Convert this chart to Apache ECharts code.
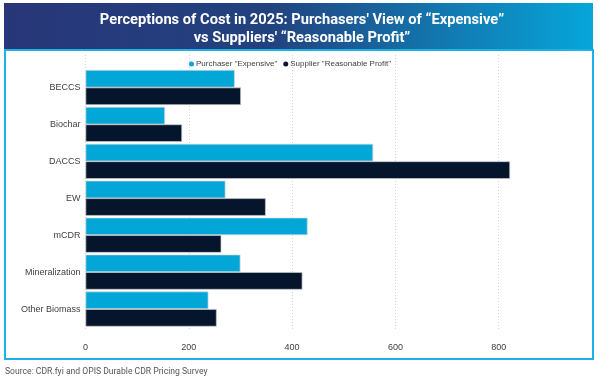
<!DOCTYPE html>
<html><head><meta charset="utf-8">
<script src="https://cdn.jsdelivr.net/npm/echarts@6/dist/echarts.min.js"></script>
<style>html,body{margin:0;padding:0;background:#fff}#c{width:602px;height:389px}</style>
</head><body><div id="c"></div>
<script>
const categories = ['BECCS','Biochar','DACCS','EW','mCDR','Mineralization','Other Biomass'];
const purchaserExpensive = [289, 154, 557, 271, 430, 300, 238];
const supplierReasonable = [301, 187, 822, 349, 263, 420, 254];
const xTicks = [0, 200, 400, 600, 800];
const seriesNames = ['Purchaser "Expensive"', 'Supplier "Reasonable Profit"'];

const chart = echarts.init(document.getElementById('c'), null, {renderer:'canvas'});
const xMax = 1000;
chart.setOption({
  animation:false,
  textStyle:{fontFamily:'Liberation Sans, Arial, sans-serif'},
  title:{
    text:'Perceptions of Cost in 2025: Purchasers\' View of \u201cExpensive\u201d\nvs Suppliers\' \u201cReasonable Profit\u201d',
    left:297, textAlign:'center', top:6,
    textStyle:{color:'#fff', fontSize:14.7, fontWeight:'bold', fontFamily:'Roboto', lineHeight:18}
  },
  legend:{
    data:seriesNames, top:55, left:184, icon:'circle', itemWidth:5, itemHeight:5, itemGap:6,
    itemStyle:{borderWidth:0},
    textStyle:{fontSize:8, color:'#404040', padding:[0,0,0,-3]}
  },
  graphic:[
    {type:'rect', z:-10, shape:{x:4,y:3,width:589,height:47}, style:{fill:new echarts.graphic.LinearGradient(0,0,1,0,[{offset:0,color:'#283678'},{offset:0.45,color:'#22427f'},{offset:1,color:'#06a6da'}])}},
    {type:'rect', z:-10, shape:{x:5,y:50,width:588,height:309}, style:{fill:'#fff', stroke:'#1db1e7', lineWidth:2}},
    {type:'text', left:5, top:367, style:{text:'Source: CDR.fyi and OPIS Durable CDR Pricing Survey', fill:'#555', fontSize:8.6, fontFamily:'Roboto'}}
  ],
  grid:[
    {left:85.5, right:-6, top:69, height:258.5, containLabel:false},
    {left:85.5, right:-6, top:55, height:276, containLabel:false}
  ],
  xAxis:[
    {gridIndex:0, type:'value', min:0, max:xMax, interval:200, show:false},
    {gridIndex:1, type:'value', min:0, max:xMax, interval:200,
     axisLine:{show:false}, axisTick:{show:false},
     axisLabel:{fontSize:9, color:'#404040', margin:12, showMaxLabel:false,
       formatter:v=>xTicks.includes(v)?String(v):''},
     splitLine:{show:true, lineStyle:{color:'#d4d4d4', type:[1,2], width:1}}}
  ],
  yAxis:[
    {gridIndex:0, type:'category', data:categories, inverse:true,
     axisLine:{show:false}, axisTick:{show:false},
     axisLabel:{fontSize:9, color:'#404040', margin:5}},
    {gridIndex:1, type:'category', data:categories, show:false}
  ],
  series:[
    {name:seriesNames[0], type:'bar', xAxisIndex:0, yAxisIndex:0, data:purchaserExpensive,
     barGap:'0%', barCategoryGap:'5%', itemStyle:{color:'#02a6d7', borderColor:'#d8d8d8', borderWidth:0.7}},
    {name:seriesNames[1], type:'bar', xAxisIndex:0, yAxisIndex:0, data:supplierReasonable,
     barGap:'0%', barCategoryGap:'5%', itemStyle:{color:'#05152c', borderColor:'#c8c8c8', borderWidth:0.7}}
  ],
  color:['#02a6d7','#05152c']
});
</script></body></html>
